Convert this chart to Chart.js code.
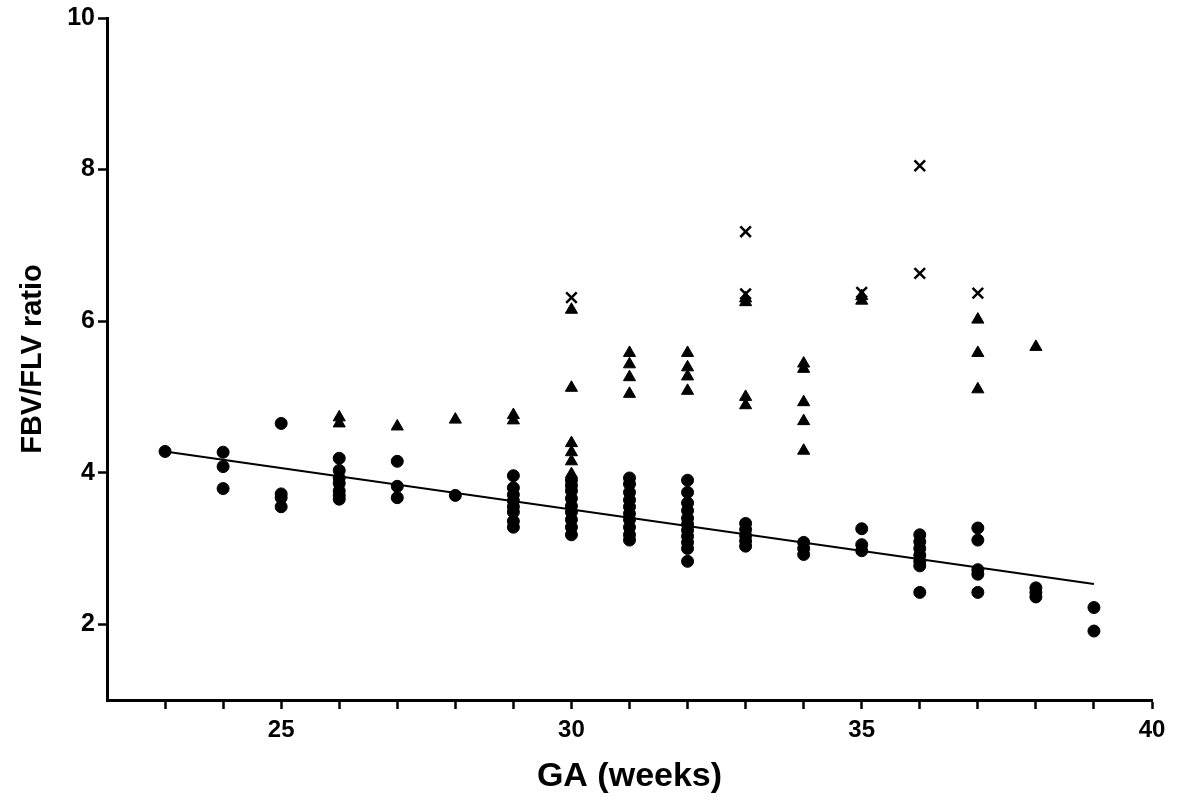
<!DOCTYPE html>
<html>
<head>
<meta charset="utf-8">
<title>FBV/FLV ratio vs GA</title>
<script src="https://cdn.jsdelivr.net/npm/chart.js@4.4.1/dist/chart.umd.min.js"></script>
<style>
  html, body { margin: 0; padding: 0; background: #fff; }
  #wrap { width: 1192px; height: 802px; }
</style>
</head>
<body>
<div id="wrap"><canvas id="chart" width="1192" height="802"></canvas></div>
<script>
// values: [GA week, FBV/FLV ratio]
const circlePoints = [
  [23, 4.28],
  [24, 4.27], [24, 4.08], [24, 3.79],
  [25, 4.65], [25, 3.72], [25, 3.67], [25, 3.55],
  [26, 4.19], [26, 4.03], [26, 3.93], [26, 3.86], [26, 3.76], [26, 3.70], [26, 3.65],
  [27, 4.15], [27, 3.82], [27, 3.67],
  [28, 3.70],
  [29, 3.96], [29, 3.80], [29, 3.71], [29, 3.63], [29, 3.55], [29, 3.48], [29, 3.36], [29, 3.28],
  [30, 3.90], [30, 3.83], [30, 3.76], [30, 3.66], [30, 3.56], [30, 3.48], [30, 3.38], [30, 3.28], [30, 3.18],
  [31, 3.93], [31, 3.85], [31, 3.74], [31, 3.64], [31, 3.55], [31, 3.46], [31, 3.38], [31, 3.28], [31, 3.18], [31, 3.11],
  [32, 3.90], [32, 3.74], [32, 3.60], [32, 3.50], [32, 3.40], [32, 3.32], [32, 3.24], [32, 3.16], [32, 3.08], [32, 3.00], [32, 2.83],
  [33, 3.33], [33, 3.25], [33, 3.17], [33, 3.10], [33, 3.03],
  [34, 3.08], [34, 3.00], [34, 2.92],
  [35, 3.26], [35, 3.05], [35, 2.97],
  [36, 3.18], [36, 3.09], [36, 3.00], [36, 2.91], [36, 2.83], [36, 2.77], [36, 2.42],
  [37, 3.27], [37, 3.11], [37, 2.72], [37, 2.66], [37, 2.42],
  [38, 2.48], [38, 2.42], [38, 2.36],
  [39, 2.22], [39, 1.91]
];

const trianglePoints = [
  [26, 4.73], [26, 4.65],
  [27, 4.61],
  [28, 4.70],
  [29, 4.76], [29, 4.69],
  [30, 6.15], [30, 5.12], [30, 4.39], [30, 4.27], [30, 4.15], [30, 3.98],
  [31, 5.58], [31, 5.43], [31, 5.26], [31, 5.04],
  [32, 5.58], [32, 5.39], [32, 5.27], [32, 5.08],
  [33, 6.30], [33, 6.25], [33, 5.00], [33, 4.89],
  [34, 5.44], [34, 5.37], [34, 4.93], [34, 4.68], [34, 4.29],
  [35, 6.33], [35, 6.27],
  [37, 6.02], [37, 5.58], [37, 5.10],
  [38, 5.66]
];

const crossPoints = [
  [30, 6.31],
  [33, 7.18], [33, 6.36],
  [35, 6.38],
  [36, 8.05], [36, 6.63],
  [37, 6.37]
];

// regression line end points
const fitWeeks = [23, 39];
const fitRatios = [4.28, 2.53];

const xTicks = [23, 24, 25, 26, 27, 28, 29, 30, 31, 32, 33, 34, 35, 36, 37, 38, 39, 40];
const xLabelTicks = [25, 30, 35, 40];
const yTicks = [2, 4, 6, 8, 10];

const toXY = (pts) => pts.map(([x, y]) => ({ x: x, y: y }));
const FONT = '"Liberation Sans", Arial, Helvetica, sans-serif';

const ctx = document.getElementById('chart').getContext('2d');
new Chart(ctx, {
  type: 'scatter',
  data: {
    datasets: [
      {
        label: 'Normal',
        data: toXY(circlePoints),
        pointStyle: 'circle',
        pointRadius: 6,
        backgroundColor: '#000',
        borderColor: '#000',
        borderWidth: 1
      },
      {
        label: 'Raised',
        data: toXY(trianglePoints),
        pointStyle: 'triangle',
        pointRadius: 7,
        backgroundColor: '#000',
        borderColor: '#000',
        borderWidth: 1
      },
      {
        label: 'High',
        data: toXY(crossPoints),
        pointStyle: 'crossRot',
        pointRadius: 7.5,
        backgroundColor: '#000',
        borderColor: '#000',
        borderWidth: 2.5
      },
      {
        label: 'Fit',
        type: 'line',
        data: fitWeeks.map((w, i) => ({ x: w, y: fitRatios[i] })),
        borderColor: '#000',
        borderWidth: 2,
        pointRadius: 0,
        fill: false,
        tension: 0
      }
    ]
  },
  options: {
    responsive: false,
    animation: false,
    layout: { padding: { left: 0, top: 17, right: 40, bottom: 0 } },
    plugins: {
      legend: { display: false },
      tooltip: { enabled: false }
    },
    scales: {
      x: {
        type: 'linear',
        min: 22,
        max: 40,
        afterBuildTicks: (axis) => { axis.ticks = xTicks.map((v) => ({ value: v })); },
        afterFit: (axis) => { axis.height = 102; },
        border: { display: true, color: '#000', width: 3 },
        grid: { display: true, drawOnChartArea: false, drawTicks: true, tickLength: 9, tickWidth: 2.5, tickColor: '#000' },
        ticks: {
          color: '#000',
          padding: 7,
          maxRotation: 0,
          autoSkip: false,
          font: { family: FONT, size: 24, weight: 'bold' },
          callback: (value) => (xLabelTicks.includes(value) ? String(value) : '')
        },
        title: {
          display: true,
          text: 'GA (weeks)',
          color: '#000',
          padding: { top: 0, bottom: 5 },
          font: { family: FONT, size: 34, weight: 'bold' }
        }
      },
      y: {
        type: 'linear',
        min: 1,
        max: 10,
        afterBuildTicks: (axis) => { axis.ticks = yTicks.map((v) => ({ value: v })); },
        afterFit: (axis) => { axis.width = 107; },
        border: { display: true, color: '#000', width: 3 },
        grid: { display: true, drawOnChartArea: false, drawTicks: true, tickLength: 9, tickWidth: 2.5, tickColor: '#000' },
        ticks: {
          color: '#000',
          padding: 3,
          font: { family: FONT, size: 25, weight: 'bold' }
        },
        title: {
          display: true,
          text: 'FBV/FLV ratio',
          color: '#000',
          padding: { top: 16, bottom: 0 },
          font: { family: FONT, size: 29, weight: 'bold' }
        }
      }
    }
  }
});
</script>
</body>
</html>
